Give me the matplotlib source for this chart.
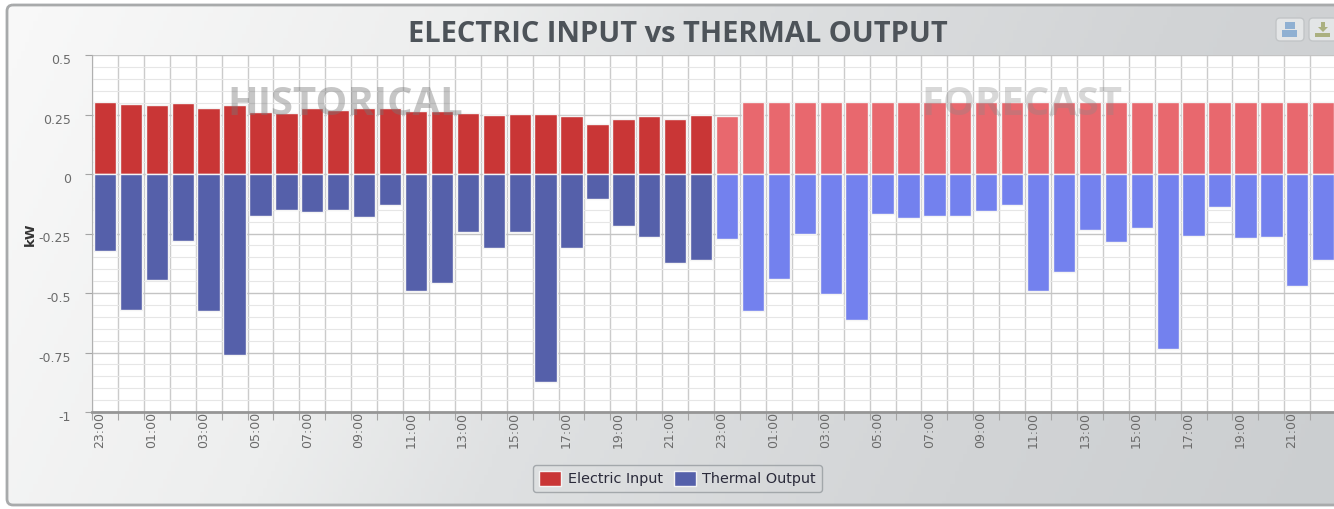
import numpy as np
import matplotlib.pyplot as plt
from matplotlib.patches import FancyBboxPatch, Rectangle, Polygon
from matplotlib.colors import LinearSegmentedColormap
from matplotlib.transforms import ScaledTranslation

# Valores (kW)
horas = ['23:00', '00:00', '01:00', '02:00', '03:00', '04:00', '05:00', '06:00',
         '07:00', '08:00', '09:00', '10:00', '11:00', '12:00', '13:00', '14:00',
         '15:00', '16:00', '17:00', '18:00', '19:00', '20:00', '21:00', '22:00']
eletrica_hist = [0.302, 0.293, 0.288, 0.298, 0.278, 0.288, 0.26, 0.255, 0.278, 0.268, 0.278, 0.278,
                 0.265, 0.265, 0.255, 0.25, 0.252, 0.252, 0.245, 0.208, 0.23, 0.245, 0.233, 0.25]
termica_hist = [-0.325, -0.57, -0.445, -0.28, -0.575, -0.76, -0.175, -0.15, -0.16, -0.15, -0.18, -0.13,
                -0.49, -0.46, -0.245, -0.31, -0.245, -0.875, -0.31, -0.105, -0.22, -0.265, -0.375, -0.36]
eletrica_prev = [0.245, 0.302, 0.302, 0.302, 0.302, 0.302, 0.302, 0.302, 0.302, 0.302, 0.302, 0.302,
                 0.302, 0.302, 0.302, 0.302, 0.302, 0.302, 0.302, 0.302, 0.302, 0.302, 0.302, 0.302]
termica_prev = [-0.275, -0.575, -0.44, -0.25, -0.505, -0.615, -0.17, -0.185, -0.175, -0.175, -0.155, -0.13,
                -0.49, -0.41, -0.235, -0.285, -0.225, -0.735, -0.26, -0.14, -0.27, -0.265, -0.47, -0.36]
y_ticks = [-1, -0.75, -0.5, -0.25, 0, 0.25, 0.5]
y_labels = ['-1', '-0.75', '-0.5', '-0.25', '0', '0.25', '0.5']

L, A = 1334, 509
PASSO = 25.92
fig = plt.figure(figsize=(L / 100, A / 100), dpi=100, facecolor='white')

# Fundo em pixels, com o painel arredondado e gradiente quase horizontal
fundo = fig.add_axes([0, 0, 1, 1])
fundo.set_xlim(0, L)
fundo.set_ylim(A, 0)
fundo.axis('off')
yy, xx = np.mgrid[0:1:120j, 0:1:320j]
grad = 0.85 * xx + 0.15 * yy
cmap = LinearSegmentedColormap.from_list('painel', [(0, '#f9f9f9'), (0.3, '#edeeee'), (0.45, '#dfe1e2'),
                                                    (0.75, '#d2d4d6'), (1, '#cbced0')])
im = fundo.imshow(grad, extent=(0, L, A, 0), cmap=cmap, aspect='auto', zorder=1)
painel = FancyBboxPatch((7, 5), L + 40, 500, boxstyle='round,pad=0,rounding_size=6',
                        facecolor='none', edgecolor='#a8aaab', linewidth=2, zorder=2)
fundo.add_patch(painel)
im.set_clip_path(painel)

# Botões do canto superior direito
fundo.add_patch(FancyBboxPatch((1276, 18), 28, 23, boxstyle='round,pad=0,rounding_size=4',
                               facecolor='#e3e5e6', edgecolor='#c2c5c7', linewidth=1, zorder=3))
fundo.add_patch(Rectangle((1282, 30), 15, 7, facecolor='#8fb0d2', zorder=4))
fundo.add_patch(Rectangle((1285, 22), 10, 7, facecolor='#8fb0d2', zorder=4))
fundo.add_patch(FancyBboxPatch((1309, 18), 28, 23, boxstyle='round,pad=0,rounding_size=4',
                               facecolor='#e3e5e6', edgecolor='#c2c5c7', linewidth=1, zorder=3))
fundo.add_patch(Rectangle((1315, 33), 15, 4, facecolor='#abb080', zorder=4))
fundo.add_patch(Polygon([(1318, 27), (1321, 27), (1321, 22), (1325, 22), (1325, 27), (1328, 27), (1323, 32)],
                        facecolor='#abb080', zorder=4))

ax = fig.add_axes([92 / L, 1 - 412 / A, (L - 92) / L, (412 - 55) / A])
ax.set_facecolor('white')

n = len(horas)
x_hist = np.arange(n) + 0.5
x_prev = np.arange(n) + n + 0.5
larg = 0.86

b1 = ax.bar(x_hist, eletrica_hist, larg, color='#c93636', edgecolor='#f4f4f4', linewidth=1, zorder=3, label='Electric Input')
b2 = ax.bar(x_hist, termica_hist, larg, color='#5560aa', edgecolor='#f4f4f4', linewidth=1, zorder=3, label='Thermal Output')
ax.bar(x_prev, eletrica_prev, larg, color='#e8686e', edgecolor='#f4f4f4', linewidth=1, zorder=3)
ax.bar(x_prev, termica_prev, larg, color='#7381ee', edgecolor='#f4f4f4', linewidth=1, zorder=3)

ax.set_xlim(0, (L - 92) / PASSO)
ax.set_ylim(-1, 0.5)

# Grade: principal em 0.25, secundária em 0.05, vertical entre as categorias
ax.set_yticks(y_ticks)
ax.set_yticklabels(y_labels, fontsize=9, color='#6b6b6b')
ax.set_yticks(np.arange(-1, 0.5, 0.05), minor=True)
ax.grid(True, which='major', axis='y', color='#c4c4c4', linewidth=1, zorder=1)
ax.grid(True, which='minor', axis='y', color='#e6e6e6', linewidth=0.8, zorder=1)
ax.tick_params(axis='y', which='minor', length=0)
ax.tick_params(axis='y', which='major', length=5, color='#a5a5a5', pad=10)

# Os rótulos do eixo y ficam um pouco abaixo da marca, como no original
desloca = ScaledTranslation(0, -4 / 100, fig.dpi_scale_trans)
for rotulo in ax.get_yticklabels():
    rotulo.set_transform(rotulo.get_transform() + desloca)

ax.set_xticks(np.arange(0, 2 * n))
ax.set_xticklabels([])
ax.grid(True, which='major', axis='x', color='#cbcbcb', linewidth=1, zorder=1)
ax.tick_params(axis='x', which='major', length=6, color='#a5a5a5')
pos_rotulos = np.arange(0, 2 * n, 2) + 0.3
ax.set_xticks(pos_rotulos, minor=True)
ax.set_xticklabels((horas + horas)[::2], minor=True, rotation=90, fontsize=9, color='#6b6b6b')
ax.tick_params(axis='x', which='minor', length=0, pad=0)

for lado in ['top', 'right']:
    ax.spines[lado].set_visible(False)
ax.spines['left'].set_color('#b0b0b0')
ax.spines['bottom'].set_color('#969696')
ax.spines['bottom'].set_linewidth(2)

# Marcas d'água por cima das barras
ax.text((345 - 92) / PASSO, 0.29, 'HISTORICAL', fontsize=28.8, family='Open Sans', fontweight='bold',
        color='#777777', alpha=0.42, ha='center', va='center', zorder=5)
ax.text((1022 - 92) / PASSO, 0.29, 'FORECAST', fontsize=28.8, family='Open Sans', fontweight='bold',
        color='#888888', alpha=0.32, ha='center', va='center', zorder=5)

fig.text(678 / L, 1 - 34 / A, 'ELECTRIC INPUT vs THERMAL OUTPUT', fontsize=20.85, fontweight='bold',
         family='Open Sans', color='#4d5359', ha='center', va='center')
fig.text(30 / L, 1 - 234 / A, 'kW', rotation=90, fontsize=9.5, fontweight='bold', color='#333333',
         ha='center', va='center')

fig.legend(handles=[b1, b2], ncol=2, loc='center', bbox_to_anchor=(677.5 / L, 1 - 478.5 / A),
           fontsize=10.4, frameon=True, fancybox=True, facecolor='none', edgecolor='#969b9f',
           handlelength=1.55, handleheight=1.2, handletextpad=0.45, columnspacing=0.75,
           labelcolor='#2a2a3a')

fig.savefig('out.png', dpi=100)
